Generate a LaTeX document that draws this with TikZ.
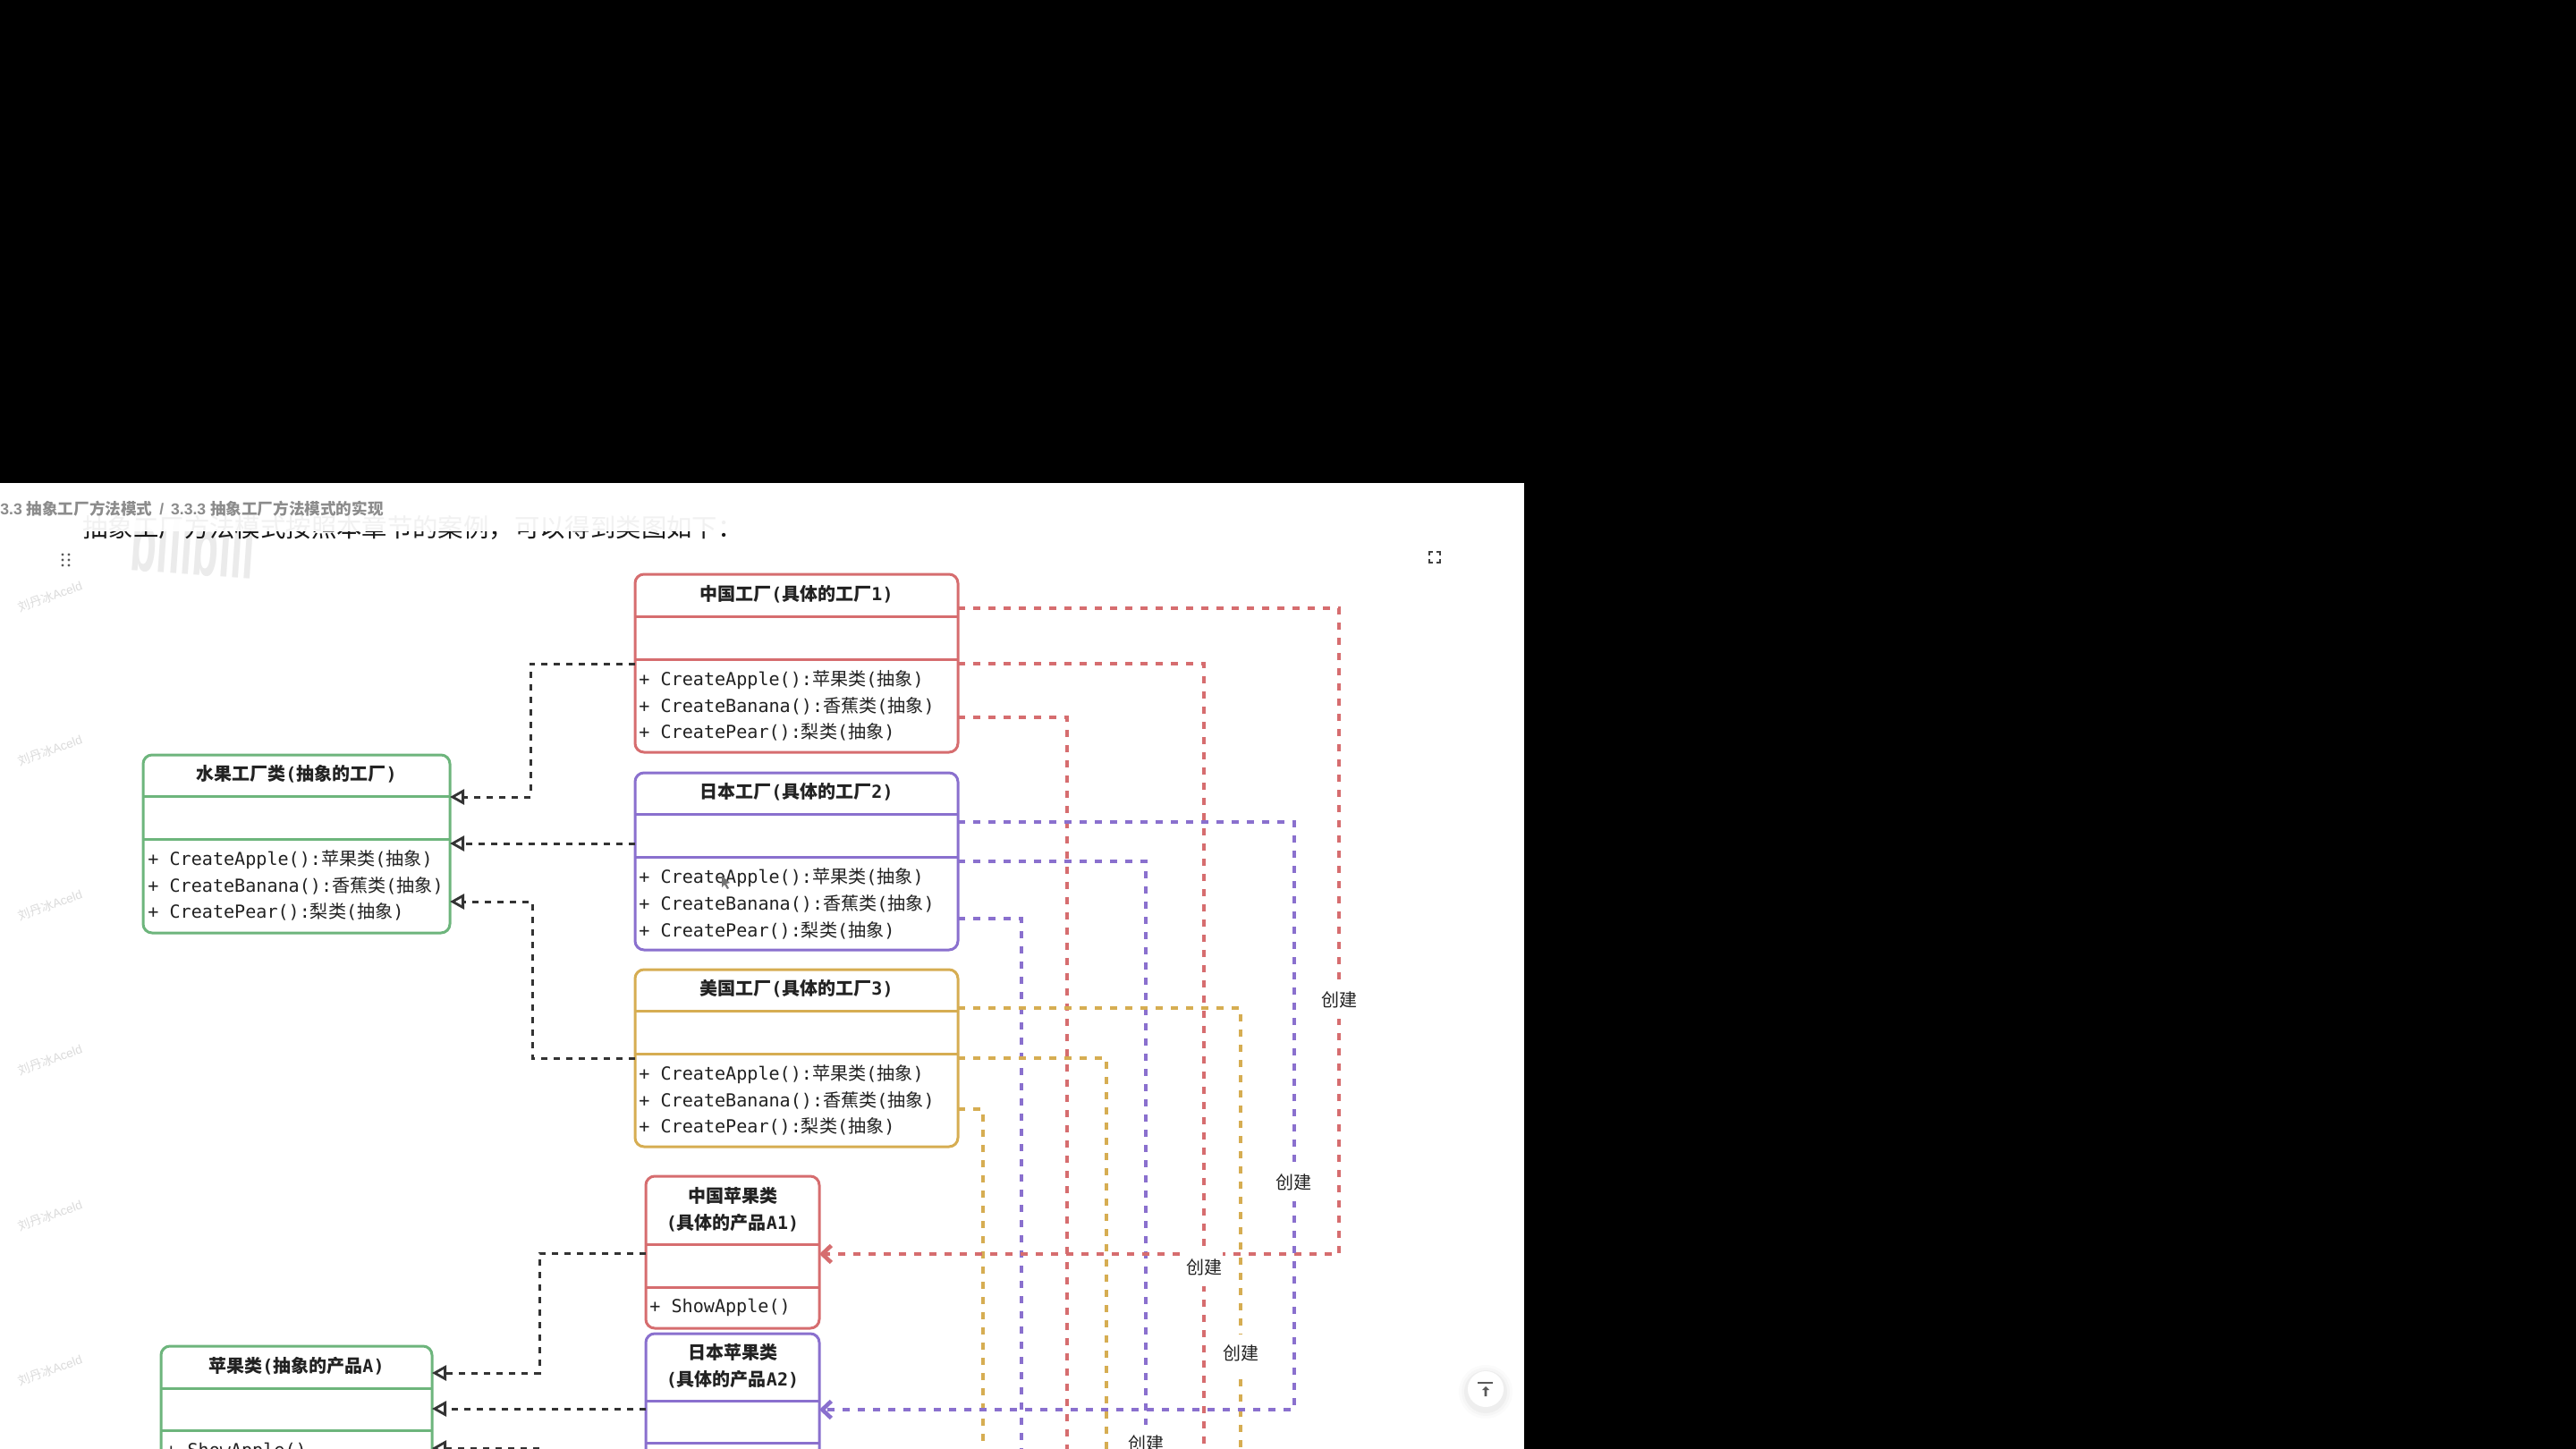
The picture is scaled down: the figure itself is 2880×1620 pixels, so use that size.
\documentclass[tikz,border=0pt]{standalone}
\usepackage{fontspec}
\usepackage{graphicx}
\usetikzlibrary{arrows.meta}
\setmainfont{Liberation Sans}
\newfontfamily\mono{DejaVu Sans Mono}
\newfontfamily\cjk{Noto Sans CJK SC}
\newcommand{\zh}[1]{{\cjk #1}}
\definecolor{cred}{HTML}{D66D6F}
\definecolor{cgreen}{HTML}{6DB57C}
\definecolor{cpurple}{HTML}{8A70CE}
\definecolor{cyellow}{HTML}{D6AD52}
\definecolor{cdark}{HTML}{222222}
\definecolor{cconn}{HTML}{333333}
\tikzset{
  umlbox/.style={draw=#1, line width=1.5pt, rounded corners=5pt, fill=white, anchor=north west, inner sep=0pt, outer sep=0pt},
  sepline/.style={draw=#1, line width=1.5pt},
  member/.style={anchor=west, inner sep=0pt, text=cdark, font=\mono\fontsize{10.05}{15}\selectfont},
  boxtitle/.style={anchor=center, inner sep=0pt, text=cdark, align=center, font=\mono\bfseries\fontsize{10}{15}\selectfont},
  implconn/.style={draw=cconn, line width=1.5pt, dash pattern=on 3.5pt off 3.5pt, -{Triangle[open,length=8pt,width=8.5pt,line width=1.4pt,fill=white]}},
  makeconn/.style={draw=#1, line width=2.3pt, dash pattern=on 4pt off 4.5pt},
  maketip/.style={-{Straight Barb[length=5pt,width=9.5pt,line width=2.3pt]}},
  createlabel/.style={fill=white, inner sep=0pt, minimum width=21pt, minimum height=21pt, text=cdark, font=\cjk\fontsize{10}{12}\selectfont},
  mark text/.style={text=black!14, rotate=20, inner sep=0pt, font=\fontsize{6.8}{8}\selectfont},
}
\newcommand{\umlclass}[7]{% name, colour, x, y, w, h(total), separator ys
  \node[umlbox=#2, minimum width=#5*0.5pt, minimum height=#6*0.5pt] (#1) at (#3,#4) {};
  \foreach \yy in {#7} { \draw[sepline=#2] (#1.west |- 0,\yy) -- (#1.east |- 0,\yy); }
}
\begin{document}
\begin{tikzpicture}[x=0.5pt,y=-0.5pt]
\useasboundingbox (0,0) rectangle (2880,1620);
\clip (0,0) rectangle (2880,1620);
\fill[black] (0,0) rectangle (2880,1620);
\fill[white] (0,540) rectangle (1704,1620);
\coordinate (off) at (0,1650);

% bilibili watermark
\node[inner sep=0pt, text=black!8, rotate=-4, font=\bfseries\fontsize{24}{26}\selectfont] (bililogo) at (216,610) {\scalebox{1}[1.9]{bilibili}};

% heading, upper part faded
\node[anchor=west, inner sep=0pt, text=black!90, font=\cjk\fontsize{14.2}{16}\selectfont] (heading) at (92,590) {抽象工厂方法模式按照本章节的案例，可以得到类图如下：};
\fill[white, opacity=0.94] (80,570) rectangle (840,594);
\node[anchor=west, inner sep=0pt, text=black!45, font=\bfseries\fontsize{8.8}{10}\selectfont] (crumb) at (0,569) {3.3 \zh{抽象工厂方法模式} \,/\, 3.3.3 \zh{抽象工厂方法模式的实现}};

% side watermarks
\foreach \i/\yy in {1/667,2/839,3/1012,4/1185,5/1359,6/1532} {
  \node[mark text] (mark\i) at (56,\yy) {\zh{刘丹冰}Aceld};
}

% drag handle
\foreach \dx in {70,77} \foreach \dy in {620,626,632} { \fill[black!65] (\dx,\dy) circle[radius=1.6]; }

% expand icon
\begin{scope}[draw=black!75, line width=1.3pt]
  \draw (1598,621) -- (1598,617) -- (1602,617);
  \draw (1606,617) -- (1610,617) -- (1610,621);
  \draw (1610,625) -- (1610,629) -- (1606,629);
  \draw (1602,629) -- (1598,629) -- (1598,625);
\end{scope}

% classes
\umlclass{f0}{cgreen}{160}{844}{343}{199}{890,938}
\umlclass{f1}{cred}{710}{642}{361}{199}{689,737}
\umlclass{f2}{cpurple}{710}{864}{361}{198}{910,958}
\umlclass{f3}{cyellow}{710}{1084}{361}{198}{1130,1178}
\umlclass{a1}{cred}{722}{1315}{194}{170}{1391,1439}
\umlclass{a2}{cpurple}{722}{1491}{194}{300}{1566,1613}
\umlclass{a0}{cgreen}{180}{1505}{303}{300}{1552,1599}

% texts
\node[boxtitle] (f0t) at (f0.north |- 0,865) {\zh{水果工厂类}(\zh{抽象的工厂})};
\node[member] (f0a) at (165,961) {+ CreateApple():\zh{苹果类}(\zh{抽象})};
\node[member] (f0b) at (165,990) {+ CreateBanana():\zh{香蕉类}(\zh{抽象})};
\node[member] (f0c) at (165,1019) {+ CreatePear():\zh{梨类}(\zh{抽象})};

\node[boxtitle] (f1t) at (f1.north |- 0,664) {\zh{中国工厂}(\zh{具体的工厂}1)};
\node[member] (f1a) at (714,760) {+ CreateApple():\zh{苹果类}(\zh{抽象})};
\node[member] (f1b) at (714,789) {+ CreateBanana():\zh{香蕉类}(\zh{抽象})};
\node[member] (f1c) at (714,818) {+ CreatePear():\zh{梨类}(\zh{抽象})};

\node[boxtitle] (f2t) at (f2.north |- 0,885) {\zh{日本工厂}(\zh{具体的工厂}2)};
\node[member] (f2a) at (714,981) {+ CreateApple():\zh{苹果类}(\zh{抽象})};
\node[member] (f2b) at (714,1010) {+ CreateBanana():\zh{香蕉类}(\zh{抽象})};
\node[member] (f2c) at (714,1040) {+ CreatePear():\zh{梨类}(\zh{抽象})};

\node[boxtitle] (f3t) at (f3.north |- 0,1105) {\zh{美国工厂}(\zh{具体的工厂}3)};
\node[member] (f3a) at (714,1201) {+ CreateApple():\zh{苹果类}(\zh{抽象})};
\node[member] (f3b) at (714,1230) {+ CreateBanana():\zh{香蕉类}(\zh{抽象})};
\node[member] (f3c) at (714,1259) {+ CreatePear():\zh{梨类}(\zh{抽象})};

\node[boxtitle] (a1t) at (a1.north |- 0,1352) {\zh{中国苹果类}\\(\zh{具体的产品}A1)};
\node[member] (a1a) at (726,1462) {+ ShowApple()};
\node[boxtitle] (a2t) at (a2.north |- 0,1527) {\zh{日本苹果类}\\(\zh{具体的产品}A2)};
\node[boxtitle] (a0t) at (a0.north |- 0,1527) {\zh{苹果类}(\zh{抽象的产品}A)};
\node[member] (a0a) at (185,1623) {+ ShowApple()};

% mouse cursor
\fill[black!55] (807,979) -- (807,992) -- (810,989) -- (813,994) -- (815,993) -- (812,988) -- (816,987) -- cycle;

% implementation connectors
\draw[implconn] (f1.west |- 0,742) -- (593,742) -- (593,891) -- (f0.east |- 0,891);
\draw[implconn] (f2.west |- 0,943) -- (f0.east |- 0,943);
\draw[implconn] (f3.west |- 0,1183) -- (595,1183) -- (595,1008) -- (f0.east |- 0,1008);
\draw[implconn] (a1.west |- 0,1401) -- (603,1401) -- (603,1535) -- (a0.east |- 0,1535);
\draw[implconn] (a2.west |- 0,1575) -- (a0.east |- 0,1575);
\draw[implconn] (603,1619) -- (a0.east |- 0,1619);

% create connectors
\draw[makeconn=cred] (f1.east |- 0,742) -- (1346,742) -- (1346,0 |- off);
\draw[makeconn=cred] (f1.east |- 0,802) -- (1193,802) -- (1193,0 |- off);
\draw[makeconn=cpurple] (f2.east |- 0,963) -- (1281,963) -- (1281,0 |- off);
\draw[makeconn=cpurple] (f2.east |- 0,1027) -- (1142,1027) -- (1142,0 |- off);
\draw[makeconn=cyellow] (f3.east |- 0,1127) -- (1387,1127) -- (1387,0 |- off);
\draw[makeconn=cyellow] (f3.east |- 0,1183) -- (1237,1183) -- (1237,0 |- off);
\draw[makeconn=cyellow] (f3.east |- 0,1240) -- (1099,1240) -- (1099,0 |- off);
\draw[makeconn=cred, maketip] (f1.east |- 0,680) -- (1497,680) -- (1497,1402) -- (a1.east |- 0,1402);
\draw[makeconn=cpurple, maketip] (f2.east |- 0,919) -- (1447,919) -- (1447,1576) -- (a2.east |- 0,1576);

% labels
\node[createlabel] (c1) at (1497,1118) {创建};
\node[createlabel] (c2) at (1446,1322) {创建};
\node[createlabel] (c3) at (1346,1417) {创建};
\node[createlabel] (c4) at (1387,1513) {创建};
\node[createlabel] (c5) at (1281,1614) {创建};

% back to top button
\foreach \r/\o in {30/0.015,27/0.02,24/0.03} { \fill[black, opacity=\o] (1661,1556) circle[radius=\r]; }
\fill[white] (1661,1553) circle[radius=20];
\draw[black!65, line width=1.1pt] (1652,1546) -- (1669,1546);
\fill[black!65] (1661,1550) -- (1665,1554) -- (1662.3,1554) -- (1662.3,1561) -- (1659.7,1561) -- (1659.7,1554) -- (1657,1554) -- cycle;
\end{tikzpicture}
\end{document}
